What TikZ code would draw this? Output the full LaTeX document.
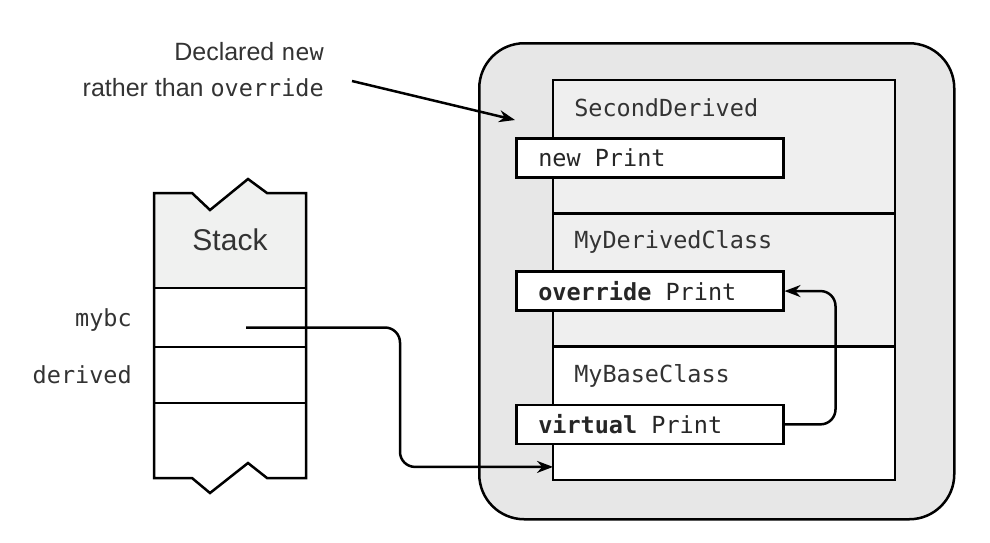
\documentclass[tikz,border=0pt]{standalone}
\usepackage{fontspec}
\setmainfont{Liberation Sans}
\setmonofont{DejaVu Sans Mono}
\usetikzlibrary{calc,positioning,arrows.meta}

\definecolor{heapgray}{HTML}{E7E7E7}
\definecolor{partgray}{HTML}{EFEFEF}
\definecolor{stackgray}{HTML}{F0F1F0}
\definecolor{inkgray}{HTML}{333333}

\newcommand{\codefont}{\fontsize{23.5}{28}\selectfont\ttfamily}
\newcommand{\notefont}{\fontsize{25}{36}\selectfont}
\newcommand{\codesp}{\hspace{.602em}}% one mono cell

\tikzset{
  objpart/.style={draw,rectangle,minimum width=342pt,minimum height=133.3pt,
    inner sep=0pt,outer sep=0pt,anchor=north west},
  method/.style={draw,rectangle,fill=white,minimum height=39pt,minimum width=267pt,
    inner xsep=22pt,inner ysep=0pt,anchor=north west,font=\codefont,text=black!85},
  classlabel/.style={anchor=west,inner sep=0pt,font=\codefont,text=inkgray},
  stackslot/.style={draw,rectangle,minimum width=152pt,inner sep=0pt,outer sep=0pt},
  varlabel/.style={inner sep=0pt,font=\codefont,text=inkgray}
}

\begin{document}
\begin{tikzpicture}[x=1pt,y=-1pt,line width=2.5pt,>={Stealth[length=16pt,width=12pt]}]

  \useasboundingbox (0,0) rectangle (990,542);

  % the object on the heap
  \node [draw,rectangle,rounded corners=45pt,fill=heapgray,minimum width=475pt,minimum height=476pt,anchor=north west] at(478,42) (heap_box) {};

  \node [objpart,fill=partgray] at(553,80) (part_second) {};
  \node [objpart,fill=partgray,below=0pt of part_second] (part_derived) {};
  \node [objpart,fill=white,below=0pt of part_derived] (part_base) {};

  \node [classlabel] at($(part_second.north west)+(20,28)$) (lbl_second) {SecondDerived};
  \node [classlabel] at($(part_derived.north west)+(20,29)$) (lbl_derived) {MyDerivedClass};
  \node [classlabel] at($(part_base.north west)+(20,29)$) (lbl_base) {MyBaseClass};

  \node [method] at($(part_second.north west)+(-38,57)$) (m_new) {\makebox[223pt][l]{new\codesp Print}};
  \node [method] at($(part_derived.north west)+(-38,57)$) (m_override) {\makebox[223pt][l]{\textbf{override}\codesp Print}};
  \node [method] at($(part_base.north west)+(-38,57)$) (m_virtual) {\makebox[223pt][l]{\textbf{virtual}\codesp Print}};

  \draw[->,rounded corners=15pt] (m_virtual.east) -- ++(51,0) |- (m_override.east);

  % the stack
  \fill[stackgray] (154,193) -- (192,193) -- (210,210) -- (248,179) -- (267,193) -- (306,193) -- (306,288) -- (154,288) -- cycle;
  \node [stackslot,minimum height=59pt,anchor=north west] at(154,288) (slot_mybc) {};
  \node [stackslot,minimum height=56pt,below=0pt of slot_mybc] (slot_derived) {};
  \draw (154,193) -- (192,193) -- (210,210) -- (248,179) -- (267,193) -- (306,193) -- (306,478) -- (267,478) -- (248,463) -- (210,493) -- (192,478) -- (154,478) -- cycle;

  \node [font=\fontsize{30}{36}\selectfont,text=inkgray] at(230,240) (stack_title) {Stack};

  \node [varlabel,left=21pt of slot_mybc.west,yshift=-3pt] (var_mybc) {mybc};
  \node [varlabel,left=21pt of slot_derived.west] (var_derived) {derived};

  \coordinate (mybc_ref) at($(slot_mybc.center)+(16,10)$);
  \draw[->,rounded corners=15pt] (mybc_ref) -- ++(154,0) |- ($(part_base.south west)+(0,-13)$);

  % the note
  \node [align=right,anchor=east,inner sep=0pt,font=\notefont,text=inkgray] at(325,70) (note) {Declared {\codefont new}\\rather than {\codefont override}};
  \draw[->] ($(note.east)+(27,11)$) -- ($(heap_box.north west)+(37,78)$);

\end{tikzpicture}
\end{document}
